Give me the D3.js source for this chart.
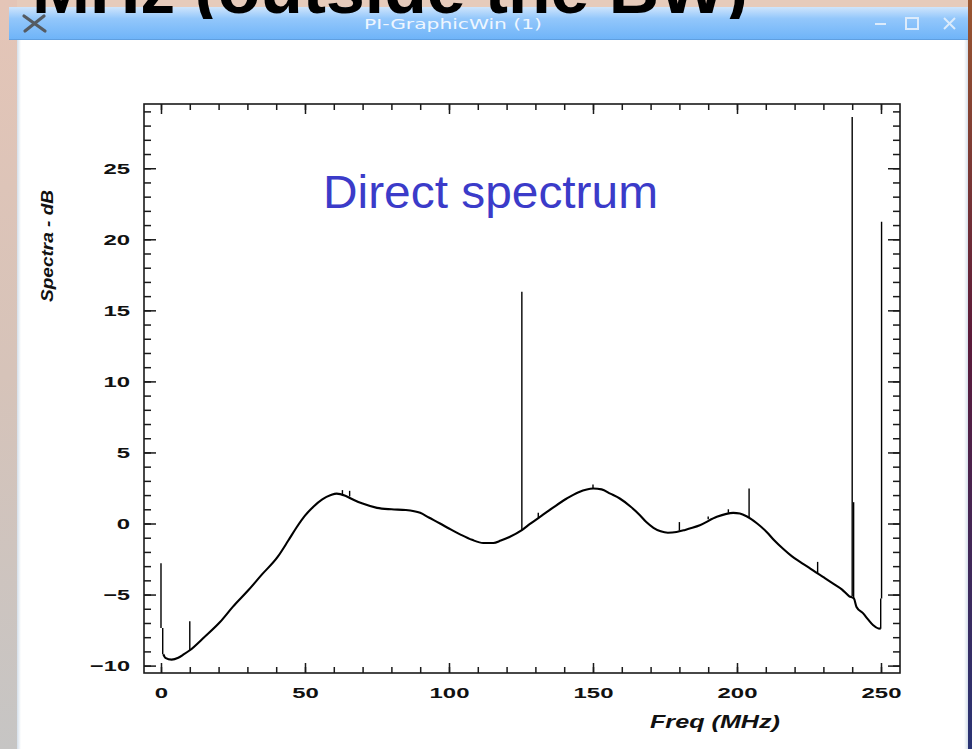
<!DOCTYPE html>
<html>
<head>
<meta charset="utf-8">
<script src="https://cdn.jsdelivr.net/npm/d3@7"></script>
<style>
  html, body { margin: 0; padding: 0; background: #ffffff; }
  svg { display: block; }
</style>
</head>
<body>
<svg id="chart" width="972" height="749"></svg>
<script>
// ---------------- DATA ----------------
const curveFreq = [0.8, 1.5, 3.7, 6, 8, 10, 15, 20.5, 25, 30.3, 35, 40.5, 44.2, 47, 50, 53, 56, 59, 61, 64, 67, 70, 75, 80, 85, 90, 93, 96.9, 100, 104, 108, 111.9, 115.4, 118, 121, 125.3, 128, 131.6, 136, 140.9, 145, 150.1, 153, 156, 159.3, 163, 166.3, 168.5, 171, 173.5, 176, 179, 182, 184.5, 187.1, 193, 198.7, 201, 203.3, 207, 210.3, 213, 216.1, 219, 221.9, 225, 227.7, 230.5, 233.4, 236.5, 239, 240.6, 241.5, 243.9, 245.5, 247.3, 249.1, 249.9];
const curveDb   = [-9.2, -9.45, -9.58, -9.45, -9.2, -8.92, -8.0, -6.93, -5.85, -4.7, -3.6, -2.35, -1.2, -0.3, 0.55, 1.2, 1.7, 2.0, 2.1, 1.95, 1.65, 1.4, 1.1, 1.0, 0.95, 0.75, 0.42, 0.0, -0.35, -0.78, -1.15, -1.37, -1.37, -1.2, -0.95, -0.47, -0.05, 0.47, 1.1, 1.76, 2.2, 2.46, 2.4, 2.1, 1.76, 1.2, 0.58, 0.1, -0.3, -0.55, -0.65, -0.6, -0.45, -0.3, -0.12, 0.47, 0.75, 0.7, 0.51, 0.0, -0.59, -1.2, -1.8, -2.3, -2.7, -3.1, -3.48, -3.85, -4.23, -4.65, -5.12, -5.28, -5.87, -6.34, -6.75, -7.16, -7.39, -7.4];

const spikeFreq = [0, 0.6, 10, 63, 65.5, 125.3, 131, 150, 180, 190, 197, 204.2, 228, 240.0, 240.5, 249.9, 250.2];
const spikeTop  = [-2.8, -7.35, -6.88, 2.35, 2.3, 16.3, 0.75, 2.75, 0.1, 0.5, 1.0, 2.46, -2.7, 28.6, 1.5, -5.28, 21.24];
const spikeBase = [-7.35, -9.2, -8.92, 2.0, 1.9, -0.47, 0.4, 2.45, -0.5, 0.3, 0.75, 0.45, -3.48, -5.1, -5.3, -7.4, -5.28];

const xMajorTicks = [0, 50, 100, 150, 200, 250];
const xMinorTicks = d3.range(0, 251, 10);
const yMajorTicks = [-10, -5, 0, 5, 10, 15, 20, 25];
const yMinorTicks = d3.range(-10, 30, 1);

const xLabel = "Freq (MHz)";
const yLabel = "Spectra - dB";
const annotation = "Direct spectrum";
const windowTitle = "PI-GraphicWin (1)";
const slideTitle = "MHz (outside the BW)";

// ---------------- LAYOUT ----------------
const svg = d3.select("#chart");
const W = 972, H = 749;
const plot = { left: 144, right: 900, top: 104, bottom: 673 };

const defs = svg.append("defs");
const gLeft = defs.append("linearGradient").attr("id", "gLeft").attr("x1", 0).attr("y1", 0).attr("x2", 0).attr("y2", 1);
gLeft.append("stop").attr("offset", "0%").attr("stop-color", "#e4c5b7");
gLeft.append("stop").attr("offset", "50%").attr("stop-color", "#d6c3b9");
gLeft.append("stop").attr("offset", "100%").attr("stop-color", "#c6c5c4");
const gRight = defs.append("linearGradient").attr("id", "gRight").attr("x1", 0).attr("y1", 0).attr("x2", 0).attr("y2", 1);
gRight.append("stop").attr("offset", "0%").attr("stop-color", "#9a5630");
gRight.append("stop").attr("offset", "45%").attr("stop-color", "#5c1a3a");
gRight.append("stop").attr("offset", "100%").attr("stop-color", "#2a3474");
const gBar = defs.append("linearGradient").attr("id", "gBar").attr("x1", 0).attr("y1", 0).attr("x2", 0).attr("y2", 1);
gBar.append("stop").attr("offset", "0%").attr("stop-color", "#cfe5fc");
gBar.append("stop").attr("offset", "35%").attr("stop-color", "#93c7fb");
gBar.append("stop").attr("offset", "100%").attr("stop-color", "#6db3f8");
const gShadeL = defs.append("linearGradient").attr("id", "gShadeL").attr("x1", 0).attr("y1", 0).attr("x2", 1).attr("y2", 0);
gShadeL.append("stop").attr("offset", "0%").attr("stop-color", "#d4dfea");
gShadeL.append("stop").attr("offset", "100%").attr("stop-color", "#ffffff");
const gShadeR = defs.append("linearGradient").attr("id", "gShadeR").attr("x1", 0).attr("y1", 0).attr("x2", 1).attr("y2", 0);
gShadeR.append("stop").attr("offset", "0%").attr("stop-color", "#ffffff");
gShadeR.append("stop").attr("offset", "100%").attr("stop-color", "#d4dfea");
defs.append("clipPath").attr("id", "titleClip")
  .append("rect").attr("x", 0).attr("y", 0).attr("width", W).attr("height", 19);

// background (slide)
svg.append("rect").attr("x", 0).attr("y", 0).attr("width", W).attr("height", H).attr("fill", "#e6cbbb");
svg.append("rect").attr("x", 0).attr("y", 0).attr("width", 17).attr("height", H).attr("fill", "url(#gLeft)");
svg.append("rect").attr("x", 968).attr("y", 0).attr("width", 4).attr("height", H).attr("fill", "url(#gRight)");

// window body
svg.append("rect").attr("x", 17).attr("y", 40).attr("width", 951).attr("height", H - 40).attr("fill", "#ffffff");
svg.append("rect").attr("x", 17).attr("y", 40).attr("width", 4).attr("height", H - 40).attr("fill", "url(#gShadeL)");
svg.append("rect").attr("x", 964).attr("y", 40).attr("width", 4).attr("height", H - 40).attr("fill", "url(#gShadeR)");

// title bar
svg.append("rect").attr("x", 9).attr("y", 7).attr("width", 959).attr("height", 33).attr("fill", "url(#gBar)");
svg.append("line").attr("x1", 9).attr("x2", 968).attr("y1", 39.5).attr("y2", 39.5).attr("stroke", "#5f9fe0").attr("stroke-width", 1);
svg.append("text").attr("x", 453).attr("y", 29).attr("text-anchor", "middle")
  .attr("font-family", "DejaVu Sans").attr("font-size", 14).attr("fill", "#eef6ff")
  .attr("textLength", 178).attr("lengthAdjust", "spacingAndGlyphs").text(windowTitle);
// window logo X
const logo = svg.append("g").attr("stroke", "#555b62").attr("stroke-width", 3.2).attr("stroke-linecap", "round");
logo.append("line").attr("x1", 24).attr("y1", 16).attr("x2", 45).attr("y2", 31);
logo.append("line").attr("x1", 44).attr("y1", 16).attr("x2", 25).attr("y2", 31);
// controls
const ctl = svg.append("g").attr("stroke", "#dcebfb").attr("fill", "none").attr("stroke-width", 2);
ctl.append("line").attr("x1", 875).attr("x2", 886).attr("y1", 24).attr("y2", 24);
ctl.append("rect").attr("x", 906).attr("y", 18).attr("width", 12).attr("height", 11);
ctl.append("line").attr("x1", 944).attr("y1", 18).attr("x2", 955).attr("y2", 29);
ctl.append("line").attr("x1", 955).attr("y1", 18).attr("x2", 944).attr("y2", 29);

// ---------------- SCALES ----------------
const x = d3.scaleLinear().domain([-5.9, 256.6]).range([plot.left, plot.right]);
const y = d3.scaleLinear().domain([-10.52, 29.52]).range([plot.bottom, plot.top]);

const axisFont = "Liberation Sans, Arial, sans-serif";

// wide bold tick labels, as in the original plotting program
function labelWidth(s) {
  let w = 0;
  for (const c of s) w += (c === "-") ? 9 : 13.3;
  return w;
}
function styleAxis(g) {
  g.select(".domain").remove();
  g.selectAll(".tick line").attr("stroke", "#1a1a1a").attr("stroke-width", 1.5);
  g.selectAll(".tick text").attr("font-family", axisFont).attr("font-weight", "bold")
    .attr("font-size", 15).attr("fill", "#111")
    .each(function () {
      const s = this.textContent;
      if (s) d3.select(this).attr("textLength", labelWidth(s)).attr("lengthAdjust", "spacingAndGlyphs");
    });
}

// minor ticks
svg.append("g").attr("transform", `translate(0,${plot.bottom})`)
  .call(d3.axisBottom(x).tickValues(xMinorTicks).tickSize(-6).tickFormat("")).call(styleAxis);
svg.append("g").attr("transform", `translate(0,${plot.top})`)
  .call(d3.axisTop(x).tickValues(xMinorTicks).tickSize(-6).tickFormat("")).call(styleAxis);
svg.append("g").attr("transform", `translate(${plot.left},0)`)
  .call(d3.axisLeft(y).tickValues(yMinorTicks).tickSize(-7).tickFormat("")).call(styleAxis);
svg.append("g").attr("transform", `translate(${plot.right},0)`)
  .call(d3.axisRight(y).tickValues(yMinorTicks).tickSize(-7).tickFormat("")).call(styleAxis);

// major ticks
svg.append("g").attr("transform", `translate(0,${plot.bottom})`)
  .call(d3.axisBottom(x).tickValues(xMajorTicks).tickSize(-10).tickPadding(14).tickFormat(d3.format("d"))).call(styleAxis);
svg.append("g").attr("transform", `translate(0,${plot.top})`)
  .call(d3.axisTop(x).tickValues(xMajorTicks).tickSize(-10).tickFormat("")).call(styleAxis);
svg.append("g").attr("transform", `translate(${plot.left},0)`)
  .call(d3.axisLeft(y).tickValues(yMajorTicks).tickSize(-12).tickPadding(14).tickFormat(d3.format("d"))).call(styleAxis);
svg.append("g").attr("transform", `translate(${plot.right},0)`)
  .call(d3.axisRight(y).tickValues(yMajorTicks).tickSize(-12).tickFormat("")).call(styleAxis);

// frame
svg.append("rect").attr("x", plot.left).attr("y", plot.top)
  .attr("width", plot.right - plot.left).attr("height", plot.bottom - plot.top)
  .attr("fill", "none").attr("stroke", "#1a1a1a").attr("stroke-width", 1.6);

// ---------------- MARKS ----------------
const curveData = curveFreq.map((f, i) => ({ f, v: curveDb[i] }));
const line = d3.line().x(d => x(d.f)).y(d => y(d.v)).curve(d3.curveMonotoneX);
svg.append("path").datum(curveData).attr("d", line)
  .attr("fill", "none").attr("stroke", "#000").attr("stroke-width", 2.1).attr("stroke-linejoin", "round");

const spikeData = spikeFreq.map((f, i) => ({ f, top: spikeTop[i], base: spikeBase[i] }));
svg.append("g").selectAll("line").data(spikeData).join("line")
  .attr("x1", d => x(d.f)).attr("x2", d => x(d.f))
  .attr("y1", d => y(d.base)).attr("y2", d => y(d.top))
  .attr("stroke", "#000").attr("stroke-width", 1.4);

// ---------------- TEXT ----------------
svg.append("text").attr("x", 323).attr("y", 208)
  .attr("font-family", axisFont).attr("font-size", 46).attr("fill", "#3b3bc9")
  .attr("textLength", 335).attr("lengthAdjust", "spacingAndGlyphs").text(annotation);

svg.append("text").attr("transform", "translate(53,246) rotate(-90)").attr("text-anchor", "middle")
  .attr("font-family", axisFont).attr("font-weight", "bold").attr("font-style", "italic")
  .attr("font-size", 17).attr("fill", "#111")
  .attr("textLength", 112).attr("lengthAdjust", "spacingAndGlyphs").text(yLabel);

svg.append("text").attr("x", 715).attr("y", 728).attr("text-anchor", "middle")
  .attr("font-family", axisFont).attr("font-weight", "bold").attr("font-style", "italic")
  .attr("font-size", 17.5).attr("fill", "#111")
  .attr("textLength", 130).attr("lengthAdjust", "spacingAndGlyphs").text(xLabel);

// slide title (only its lower edge is visible above the window)
svg.append("g").attr("clip-path", "url(#titleClip)")
  .append("text").attr("x", 32).attr("y", 13)
  .attr("font-family", axisFont).attr("font-weight", "bold")
  .attr("font-size", 69).attr("fill", "#000")
  .attr("textLength", 716).attr("lengthAdjust", "spacingAndGlyphs").text(slideTitle);
</script>
</body>
</html>
